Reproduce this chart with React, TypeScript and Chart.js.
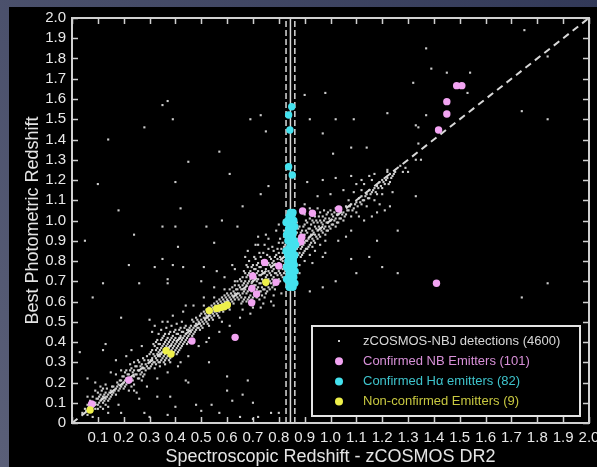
import { useEffect, useRef } from "react";
import { Chart, registerables } from "chart.js";

Chart.register(...registerables);

const X_TICKS = [0, 0.1, 0.2, 0.3, 0.4, 0.5, 0.6, 0.7, 0.8, 0.9, 1.0, 1.1, 1.2, 1.3, 1.4, 1.5, 1.6, 1.7, 1.8, 1.9, 2.0];
const X_TICK_LABELS = ["", "0.1", "0.2", "0.3", "0.4", "0.5", "0.6", "0.7", "0.8", "0.9", "1.0", "1.1", "1.2", "1.3", "1.4", "1.5", "1.6", "1.7", "1.8", "1.9", "2.0"];
const Y_TICKS = [0, 0.1, 0.2, 0.3, 0.4, 0.5, 0.6, 0.7, 0.8, 0.9, 1.0, 1.1, 1.2, 1.3, 1.4, 1.5, 1.6, 1.7, 1.8, 1.9, 2.0];
const Y_TICK_LABELS = ["0", "0.1", "0.2", "0.3", "0.4", "0.5", "0.6", "0.7", "0.8", "0.9", "1.0", "1.1", "1.2", "1.3", "1.4", "1.5", "1.6", "1.7", "1.8", "1.9", "2.0"];

const X_TITLE = "Spectroscopic Redshift - zCOSMOS DR2";
const Y_TITLE = "Best Photometric Redshift";

const SERIES_LABELS = [
  "zCOSMOS-NBJ detections (4600)",
  "Confirmed NB Emitters (101)",
  "Confirmed H\u03b1 emitters (82)",
  "Non-confirmed Emitters (9)",
];

// dense cloud of zCOSMOS-NBJ detections along the 1:1 relation
const CLOUD: [number, number][] = [
  [0.04,0.05],[0.05,0.07],[0.06,0.04],[0.06,0.09],[0.07,0.06],[0.07,0.11],[0.08,0.08],[0.08,0.13],[0.09,0.07],[0.09,0.10],
  [0.10,0.12],[0.10,0.09],[0.10,0.15],[0.11,0.11],[0.11,0.14],[0.12,0.10],[0.12,0.13],[0.12,0.17],[0.13,0.12],[0.13,0.15],
  [0.14,0.14],[0.14,0.11],[0.15,0.16],[0.15,0.13],[0.09,0.16],[0.11,0.18],[0.13,0.19],[0.08,0.03],[0.12,0.07],[0.14,0.08],
  [0.16,0.15],[0.16,0.18],[0.17,0.14],[0.17,0.17],[0.18,0.19],[0.18,0.16],[0.19,0.18],[0.19,0.21],[0.20,0.17],[0.20,0.20],
  [0.20,0.23],[0.21,0.19],[0.21,0.22],[0.21,0.26],[0.22,0.20],[0.22,0.24],[0.23,0.22],[0.23,0.27],[0.23,0.18],[0.24,0.23],
  [0.24,0.26],[0.24,0.30],[0.25,0.24],[0.25,0.28],[0.26,0.22],[0.26,0.26],[0.26,0.30],[0.27,0.25],[0.27,0.29],[0.28,0.27],
  [0.28,0.31],[0.28,0.24],[0.29,0.28],[0.29,0.33],[0.30,0.27],[0.30,0.30],[0.30,0.34],
  [0.31,0.29],[0.31,0.32],[0.31,0.36],[0.32,0.30],[0.32,0.33],[0.32,0.38],[0.33,0.31],[0.33,0.34],[0.33,0.37],[0.33,0.41],
  [0.34,0.30],[0.34,0.33],[0.34,0.36],[0.34,0.39],[0.35,0.32],[0.35,0.35],[0.35,0.38],[0.35,0.42],[0.36,0.31],[0.36,0.34],
  [0.36,0.37],[0.36,0.40],[0.36,0.44],[0.37,0.33],[0.37,0.36],[0.37,0.39],[0.37,0.42],[0.38,0.32],[0.38,0.35],[0.38,0.38],
  [0.38,0.41],[0.38,0.45],[0.39,0.34],[0.39,0.37],[0.39,0.40],[0.39,0.43],[0.40,0.36],[0.40,0.39],[0.40,0.42],[0.40,0.46],
  [0.41,0.35],[0.41,0.38],[0.41,0.41],[0.41,0.44],[0.42,0.37],[0.42,0.40],[0.42,0.43],[0.42,0.47],[0.43,0.39],[0.43,0.42],
  [0.43,0.45],[0.44,0.41],[0.44,0.44],[0.44,0.48],[0.45,0.43],[0.45,0.46],[0.45,0.40],[0.46,0.45],[0.46,0.48],[0.47,0.44],
  [0.47,0.47],[0.47,0.50],
  [0.48,0.46],[0.48,0.49],[0.48,0.52],[0.49,0.47],[0.49,0.50],[0.50,0.48],[0.50,0.51],[0.50,0.54],[0.51,0.49],[0.51,0.52],
  [0.51,0.55],[0.52,0.50],[0.52,0.53],[0.52,0.56],[0.53,0.51],[0.53,0.54],[0.53,0.57],[0.54,0.52],[0.54,0.55],[0.54,0.58],
  [0.55,0.53],[0.55,0.56],[0.55,0.59],[0.56,0.54],[0.56,0.57],[0.56,0.60],[0.57,0.55],[0.57,0.58],[0.57,0.61],[0.58,0.56],
  [0.58,0.59],[0.58,0.62],[0.59,0.57],[0.59,0.60],[0.59,0.63],[0.60,0.58],[0.60,0.61],[0.60,0.64],[0.61,0.59],[0.61,0.62],
  [0.61,0.66],[0.62,0.60],[0.62,0.63],[0.62,0.67],[0.63,0.61],[0.63,0.64],[0.63,0.68],[0.64,0.62],[0.64,0.66],[0.64,0.70],
  [0.65,0.63],[0.65,0.67],[0.65,0.71],
  [0.66,0.60],[0.66,0.64],[0.66,0.68],[0.66,0.72],[0.67,0.62],[0.67,0.66],[0.67,0.70],[0.67,0.74],[0.68,0.61],[0.68,0.65],
  [0.68,0.69],[0.68,0.73],[0.68,0.77],[0.69,0.63],[0.69,0.67],[0.69,0.71],[0.69,0.75],[0.70,0.62],[0.70,0.66],[0.70,0.70],
  [0.70,0.74],[0.70,0.78],[0.71,0.64],[0.71,0.68],[0.71,0.72],[0.71,0.76],[0.71,0.81],[0.72,0.63],[0.72,0.67],[0.72,0.71],
  [0.72,0.75],[0.72,0.79],[0.73,0.65],[0.73,0.69],[0.73,0.73],[0.73,0.77],[0.73,0.82],[0.74,0.66],[0.74,0.70],[0.74,0.74],
  [0.74,0.78],[0.74,0.84],[0.75,0.64],[0.75,0.68],[0.75,0.72],[0.75,0.76],[0.75,0.80],[0.76,0.67],[0.76,0.71],[0.76,0.75],
  [0.76,0.79],[0.76,0.86],[0.77,0.69],[0.77,0.73],[0.77,0.77],[0.77,0.81],[0.78,0.68],[0.78,0.72],[0.78,0.76],[0.78,0.80],
  [0.78,0.85],[0.79,0.70],[0.79,0.74],[0.79,0.78],[0.79,0.83],[0.80,0.71],[0.80,0.75],[0.80,0.79],[0.80,0.84],[0.80,0.89],
  [0.81,0.73],[0.81,0.77],[0.81,0.81],[0.81,0.86],[0.82,0.74],[0.82,0.78],[0.82,0.82],[0.82,0.87],[0.82,0.92],
  [0.83,0.80],[0.84,0.95],[0.85,0.85],[0.86,0.90],[0.86,0.75],
  [0.87,0.82],[0.87,0.86],[0.87,0.90],[0.87,0.94],[0.88,0.84],[0.88,0.88],[0.88,0.92],[0.88,0.97],[0.89,0.83],[0.89,0.87],
  [0.89,0.91],[0.89,0.95],[0.90,0.85],[0.90,0.89],[0.90,0.93],[0.90,0.98],[0.91,0.86],[0.91,0.90],[0.91,0.94],[0.91,0.99],
  [0.92,0.88],[0.92,0.92],[0.92,0.96],[0.92,1.01],[0.93,0.87],[0.93,0.91],[0.93,0.95],[0.93,1.00],[0.94,0.89],[0.94,0.93],
  [0.94,0.97],[0.94,1.02],[0.95,0.91],[0.95,0.95],[0.95,0.99],[0.96,0.92],[0.96,0.96],[0.96,1.00],[0.96,1.04],[0.97,0.94],
  [0.97,0.98],[0.97,1.02],[0.98,0.93],[0.98,0.97],[0.98,1.01],[0.99,0.95],[0.99,0.99],[0.99,1.04],[1.00,0.96],[1.00,1.00],
  [1.00,1.05],[1.01,0.98],[1.01,1.02],[1.02,0.97],[1.02,1.01],[1.02,1.06],[1.03,0.99],[1.03,1.03],[1.04,1.01],[1.04,1.05],
  [1.05,1.00],[1.05,1.04],
  [1.06,1.03],[1.06,1.07],[1.07,1.05],[1.08,1.02],[1.08,1.08],[1.09,1.06],[1.10,1.04],[1.10,1.09],[1.11,1.11],[1.12,1.08],
  [1.12,1.12],[1.13,1.10],[1.14,1.13],[1.15,1.11],[1.15,1.15],[1.16,1.14],[1.17,1.16],[1.18,1.13],[1.18,1.17],[1.19,1.19],
  [1.20,1.16],[1.20,1.20],[1.21,1.18],[1.22,1.21],[1.23,1.19],[1.23,1.23],[1.24,1.22],[1.25,1.24],[1.13,1.18],[1.16,1.20],
  [1.09,1.14],[1.11,1.02],
];

// second pass of cloud points read between the first ones (denser core)
const CLOUD_FILL: [number, number][] = [
  [0.055,0.06],[0.065,0.08],[0.075,0.09],[0.085,0.10],[0.095,0.12],[0.105,0.10],[0.105,0.13],[0.115,0.12],[0.115,0.16],[0.125,0.14],
  [0.125,0.11],[0.135,0.13],[0.135,0.17],[0.145,0.15],[0.145,0.12],[0.155,0.14],[0.155,0.18],[0.10,0.07],[0.11,0.08],[0.13,0.09],
  [0.165,0.16],[0.175,0.18],[0.175,0.20],[0.185,0.17],[0.185,0.21],[0.195,0.19],[0.195,0.23],[0.205,0.18],[0.205,0.21],[0.205,0.25],
  [0.215,0.20],[0.215,0.24],[0.225,0.22],[0.225,0.26],[0.225,0.29],[0.235,0.21],[0.235,0.25],[0.245,0.24],[0.245,0.28],[0.255,0.26],
  [0.255,0.22],[0.255,0.31],[0.265,0.24],[0.265,0.28],[0.275,0.27],[0.275,0.23],[0.275,0.32],[0.285,0.26],[0.285,0.29],[0.295,0.27],
  [0.295,0.31],[0.22,0.16],[0.24,0.19],[0.27,0.21],
  [0.305,0.28],[0.305,0.31],[0.305,0.35],[0.315,0.30],[0.315,0.34],[0.315,0.39],[0.325,0.29],[0.325,0.32],[0.325,0.36],[0.325,0.40],
  [0.335,0.30],[0.335,0.33],[0.335,0.35],[0.335,0.39],[0.335,0.44],[0.345,0.31],[0.345,0.34],[0.345,0.37],[0.345,0.41],[0.345,0.46],
  [0.355,0.30],[0.355,0.33],[0.355,0.36],[0.355,0.39],[0.355,0.43],[0.365,0.32],[0.365,0.35],[0.365,0.38],[0.365,0.41],[0.365,0.47],
  [0.375,0.31],[0.375,0.34],[0.375,0.37],[0.375,0.40],[0.375,0.44],[0.385,0.33],[0.385,0.36],[0.385,0.39],[0.385,0.42],[0.385,0.48],
  [0.395,0.35],[0.395,0.38],[0.395,0.41],[0.395,0.45],[0.405,0.34],[0.405,0.37],[0.405,0.40],[0.405,0.44],[0.405,0.49],[0.415,0.36],
  [0.415,0.39],[0.415,0.42],[0.415,0.46],[0.425,0.38],[0.425,0.41],[0.425,0.45],[0.425,0.50],[0.435,0.40],[0.435,0.43],[0.435,0.47],
  [0.445,0.42],[0.445,0.46],[0.445,0.39],[0.455,0.44],[0.455,0.47],[0.465,0.43],[0.465,0.46],[0.465,0.51],[0.32,0.27],[0.34,0.28],
  [0.36,0.29],[0.38,0.30],
  [0.475,0.45],[0.475,0.48],[0.485,0.47],[0.485,0.51],[0.495,0.46],[0.495,0.49],[0.495,0.53],[0.505,0.50],[0.505,0.47],[0.515,0.51],
  [0.515,0.54],[0.525,0.49],[0.525,0.52],[0.525,0.55],[0.535,0.53],[0.535,0.56],[0.545,0.51],[0.545,0.54],[0.545,0.57],[0.555,0.55],
  [0.555,0.58],[0.565,0.53],[0.565,0.56],[0.565,0.59],[0.575,0.57],[0.575,0.60],[0.585,0.55],[0.585,0.58],[0.585,0.61],[0.595,0.59],
  [0.595,0.62],[0.605,0.57],[0.605,0.60],[0.605,0.63],[0.615,0.61],[0.615,0.64],[0.625,0.59],[0.625,0.62],[0.625,0.65],[0.635,0.63],
  [0.635,0.66],[0.645,0.61],[0.645,0.64],[0.645,0.68],[0.51,0.58],[0.55,0.62],[0.59,0.66],[0.63,0.70],[0.53,0.48],[0.57,0.52],
  [0.61,0.56],
  [0.655,0.59],[0.655,0.62],[0.655,0.66],[0.655,0.70],[0.665,0.61],[0.665,0.65],[0.665,0.69],[0.665,0.75],[0.675,0.60],[0.675,0.64],
  [0.675,0.68],[0.675,0.72],[0.675,0.78],[0.685,0.62],[0.685,0.66],[0.685,0.70],[0.685,0.74],[0.685,0.80],[0.695,0.61],[0.695,0.65],
  [0.695,0.69],[0.695,0.73],[0.695,0.77],[0.705,0.60],[0.705,0.64],[0.705,0.68],[0.705,0.72],[0.705,0.76],[0.705,0.82],[0.715,0.62],
  [0.715,0.66],[0.715,0.70],[0.715,0.74],[0.715,0.78],[0.725,0.61],[0.725,0.65],[0.725,0.69],[0.725,0.73],[0.725,0.77],[0.725,0.84],
  [0.735,0.63],[0.735,0.67],[0.735,0.71],[0.735,0.75],[0.735,0.80],[0.745,0.62],[0.745,0.66],[0.745,0.70],[0.745,0.74],[0.745,0.88],
  [0.755,0.65],[0.755,0.69],[0.755,0.73],[0.755,0.78],[0.755,0.83],[0.765,0.66],[0.765,0.70],[0.765,0.74],[0.765,0.78],[0.765,0.82],
  [0.775,0.67],[0.775,0.71],[0.775,0.75],[0.775,0.79],[0.775,0.87],[0.785,0.66],[0.785,0.70],[0.785,0.74],[0.785,0.78],[0.785,0.82],
  [0.795,0.69],[0.795,0.73],[0.795,0.77],[0.795,0.81],[0.795,0.86],[0.805,0.70],[0.805,0.74],[0.805,0.78],[0.805,0.82],[0.805,0.91],
  [0.815,0.72],[0.815,0.76],[0.815,0.80],[0.815,0.84],[0.815,0.89],[0.825,0.75],[0.825,0.79],[0.825,0.83],[0.825,0.88],[0.82,0.95],
  [0.70,0.57],[0.74,0.59],[0.78,0.63],[0.68,0.85],[0.72,0.88],[0.76,0.91],
  [0.865,0.80],[0.865,0.84],[0.865,0.88],[0.865,0.93],[0.875,0.83],[0.875,0.87],[0.875,0.91],[0.875,0.96],[0.885,0.82],[0.885,0.86],
  [0.885,0.90],[0.885,0.94],[0.895,0.84],[0.895,0.88],[0.895,0.92],[0.895,0.97],[0.905,0.86],[0.905,0.90],[0.905,0.95],[0.905,1.00],
  [0.915,0.87],[0.915,0.91],[0.915,0.96],[0.925,0.89],[0.925,0.93],[0.925,0.98],[0.935,0.90],[0.935,0.94],[0.935,0.99],[0.945,0.92],
  [0.945,0.96],[0.945,1.00],[0.955,0.93],[0.955,0.97],[0.955,1.02],[0.965,0.95],[0.965,0.99],[0.975,0.96],[0.975,1.00],[0.975,1.05],
  [0.985,0.95],[0.985,0.99],[0.985,1.03],[0.995,0.97],[0.995,1.01],[1.005,0.98],[1.005,1.03],[1.015,1.00],[1.015,1.04],[1.025,0.99],
  [1.025,1.03],[1.035,1.01],[1.035,1.06],[1.045,1.03],[0.88,0.78],[0.90,0.80],[0.92,0.83],[0.94,0.85],[0.96,0.88],[0.98,0.90],
  [0.90,1.03],[0.95,1.06],[0.87,0.99],
  [1.055,1.02],[1.065,1.05],[1.075,1.07],[1.085,1.05],[1.095,1.08],[1.105,1.07],[1.115,1.09],[1.125,1.10],[1.135,1.12],[1.145,1.11],
  [1.155,1.13],[1.165,1.15],[1.175,1.14],[1.185,1.16],[1.195,1.17],[1.205,1.19],[1.215,1.20],[1.225,1.18],[1.235,1.21],[1.245,1.23],
  [1.07,1.10],[1.12,1.15],[1.17,1.10],[1.20,1.13],[1.22,1.25],[1.14,1.07],
];

// looser halo of detections around the core band
const CLOUD_HALO: [number, number][] = [
  [0.15,0.25],[0.18,0.09],[0.21,0.33],[0.25,0.15],[0.27,0.38],[0.29,0.18],[0.31,0.45],[0.33,0.22],[0.35,0.50],[0.37,0.25],
  [0.39,0.53],[0.41,0.28],[0.43,0.55],[0.45,0.33],[0.47,0.58],[0.49,0.38],[0.51,0.62],[0.53,0.42],[0.55,0.67],[0.57,0.45],
  [0.59,0.72],[0.61,0.48],[0.63,0.76],[0.65,0.52],[0.67,0.82],[0.69,0.54],[0.71,0.88],[0.73,0.57],[0.75,0.93],[0.77,0.60],
  [0.79,0.95],[0.81,0.64],[0.82,1.00],[0.88,0.74],[0.90,1.08],[0.93,0.79],[0.95,1.12],[0.98,0.84],[1.00,1.13],[1.03,0.90],
  [1.05,1.15],[1.08,0.95],[1.10,1.18],[1.13,1.00],[1.15,1.22],[1.19,1.08],[1.24,1.14],[1.27,1.27],[1.29,1.26],[0.23,0.36],
  [0.26,0.12],[0.32,0.48],[0.42,0.30],[0.44,0.58],[0.52,0.40],[0.58,0.50],[0.62,0.78],[0.66,0.56],[0.72,0.92],[0.78,0.58],
  [0.80,0.98],[0.92,1.06],[0.97,0.82],[1.06,0.92],[1.12,1.20],[0.17,0.24],[0.14,0.05],[0.09,0.20],[0.06,0.13],
];

// sparse outliers of the zCOSMOS-NBJ detections
const SCATTER: [number, number][] = [
  [0.35,1.57],[0.37,1.59],[0.39,1.50],[0.28,1.46],[0.73,1.52],[0.69,1.50],[0.75,1.44],[0.57,1.34],[0.45,1.29],[0.97,1.43],
  [0.92,1.50],[1.02,1.50],[1.09,1.50],[1.22,1.53],[1.08,1.36],[1.14,1.36],[1.01,1.33],[1.22,1.24],[0.91,1.19],[0.97,1.20],
  [1.02,1.21],[0.61,1.23],[0.40,1.19],[0.73,1.13],[0.76,1.17],[0.66,1.07],[0.42,1.06],[0.58,1.00],[0.35,0.97],[0.40,0.97],
  [0.52,0.97],[0.64,0.97],[0.55,0.89],[0.41,0.87],[0.35,0.81],[0.43,0.77],[0.37,0.71],[0.50,0.70],[0.32,0.77],[1.16,1.02],
  [1.21,1.05],[1.18,0.90],[1.26,0.95],[1.15,0.82],[1.20,0.77],[1.08,0.81],[1.10,0.74],[1.02,0.70],[0.97,0.67],[0.92,0.65],
  [1.26,0.74],[0.90,1.62],[0.98,1.63],[1.17,1.23],[1.08,1.22],[1.18,1.04],[1.23,1.07],
  [0.12,0.69],[0.26,0.69],[0.37,0.69],[0.30,0.51],[0.37,0.50],[0.19,0.52],[0.13,0.39],[0.12,0.36],[0.17,0.31],[0.19,0.26],
  [0.24,0.16],[0.33,0.13],[0.38,0.13],[0.44,0.21],[0.53,0.30],[0.60,0.23],[0.68,0.21],[0.62,0.11],[0.70,0.10],[0.50,0.06],
  [0.40,0.08],[0.30,0.03],[0.56,0.75],[0.51,0.77],[0.22,0.78],[0.39,0.78],[0.65,0.03],[0.72,0.03],
  [0.19,0.05],[0.28,0.05],[0.37,0.04],[0.45,0.20],[0.54,0.09],[0.60,0.16],[0.66,0.14],[0.70,0.02],[0.77,0.05],[0.80,0.05],
  [0.57,0.05],[0.48,0.09],
  [0.05,0.90],[0.10,1.18],[0.18,1.05],[0.24,0.93],[0.14,1.40],[0.08,0.62],[0.03,0.35],[0.06,0.22],
  [1.75,1.94],[1.37,1.85],[1.39,1.75],[1.45,1.73],[1.54,1.73],[1.32,1.68],[1.84,1.81],[1.53,1.63],[1.37,1.52],[1.33,1.47],
  [1.34,1.46],[1.74,1.54],[1.84,1.50],[1.34,1.38],[1.33,1.30],[1.35,1.30],[1.28,1.24],[1.30,1.24],[1.33,1.12],
  [1.74,0.62],[1.84,0.69],
];

const NB_EMITTERS: [number, number][] = [
  [0.892,1.047],[0.93,1.036],[1.032,1.057],[0.889,0.917],[0.885,0.895],[0.745,0.793],[0.80,0.775],[0.699,0.726],
  [0.789,0.695],[0.696,0.665],[0.714,0.637],[0.695,0.594],[0.631,0.423],[0.464,0.405],[0.22,0.212],[0.076,0.094],
  [1.488,1.666],[1.508,1.666],[1.45,1.587],[1.45,1.526],[1.418,1.447],[1.41,0.69],
];

const HA_EMITTERS: [number, number][] = [
  [0.85,1.562],[0.838,1.521],[0.843,1.447],[0.838,1.266],[0.852,1.225],
  [0.845,1.04],[0.855,1.04],[0.84,1.02],[0.85,1.02],[0.835,1.00],[0.848,1.00],[0.858,1.00],[0.84,0.98],[0.852,0.98],
  [0.838,0.96],[0.845,0.94],[0.856,0.94],[0.84,0.92],[0.835,0.90],[0.85,0.90],[0.86,0.90],[0.845,0.88],[0.838,0.86],
  [0.855,0.86],[0.848,0.84],[0.84,0.82],[0.858,0.82],[0.835,0.80],[0.85,0.80],[0.845,0.78],[0.86,0.78],[0.838,0.76],
  [0.85,0.74],[0.84,0.74],[0.845,0.72],[0.858,0.72],[0.838,0.70],[0.852,0.70],[0.845,0.68],[0.84,0.67],[0.855,0.67],
  [0.828,0.99],[0.862,0.97],[0.83,0.93],[0.865,0.88],[0.828,0.85],[0.862,0.83],[0.83,0.77],[0.863,0.75],[0.83,0.71],
  [0.862,0.69],[0.85,1.03],[0.842,0.97],[0.853,0.92],[0.843,0.87],[0.852,0.83],[0.843,0.79],[0.853,0.76],[0.848,0.71],
  [0.843,0.69],[0.85,0.96],[0.835,0.94],[0.835,0.83],[0.84,0.78],[0.856,0.80],[0.845,0.75],
];

const NONCONF_EMITTERS: [number, number][] = [
  [0.07,0.064],[0.364,0.357],[0.383,0.341],[0.531,0.555],[0.56,0.566],[0.575,0.57],[0.589,0.574],[0.601,0.583],[0.75,0.695],
];

const ONE_TO_ONE: [number, number][] = [[0, 0], [2, 2]];
const HA_CENTER: [number, number][] = [[0.845, 0], [0.845, 2]];
const HA_LOW: [number, number][] = [[0.828, 0], [0.828, 2]];
const HA_HIGH: [number, number][] = [[0.862, 0], [0.862, 2]];

const toXY = (arr: [number, number][]) => arr.map(([x, y]) => ({ x, y }));

const FONT = "'Liberation Sans', Arial, Helvetica, sans-serif";
const GRAY = "#cccccc";
const PINK = "#f2a4f2";
const CYAN = "#44e2ee";
const YELLOW = "#eef04a";
const LEGEND_TEXT = ["#d8d8d8", "#d890d8", "#3ec4cc", "#c8c840"];

const backgroundPlugin = {
  id: "bgPanel",
  beforeDraw(chart: any) {
    const { ctx, width, height } = chart;
    ctx.save();
    const g = ctx.createLinearGradient(0, height, width, 0);
    g.addColorStop(0, "#5a5f78");
    g.addColorStop(1, "#323958");
    ctx.fillStyle = g;
    ctx.fillRect(0, 0, width, height);
    ctx.fillStyle = "#000";
    ctx.fillRect(9, 7, width - 9, height - 7);
    ctx.restore();
  },
};

const framePlugin = {
  id: "frameTicks",
  afterDatasetsDraw(chart: any) {
    const { ctx, chartArea } = chart;
    const xs = chart.scales.x;
    const ys = chart.scales.y;
    const { left, right, top, bottom } = chartArea;
    ctx.save();
    ctx.strokeStyle = "#d0d0d0";
    ctx.lineWidth = 1.5;
    const len = 6;
    ctx.beginPath();
    X_TICKS.forEach((v) => {
      const px = Math.round(xs.getPixelForValue(v)) + 0.5;
      ctx.moveTo(px, bottom);
      ctx.lineTo(px, bottom - len);
      ctx.moveTo(px, top);
      ctx.lineTo(px, top + len);
    });
    Y_TICKS.forEach((v) => {
      const py = Math.round(ys.getPixelForValue(v)) + 0.5;
      ctx.moveTo(left, py);
      ctx.lineTo(left + len, py);
      ctx.moveTo(right, py);
      ctx.lineTo(right - len, py);
    });
    ctx.stroke();
    ctx.lineWidth = 2;
    ctx.strokeRect(left, top, right - left, bottom - top);

    // legend box
    const bx0 = 312, by0 = 326, bx1 = 580, by1 = 416;
    ctx.fillStyle = "#000";
    ctx.fillRect(bx0, by0, bx1 - bx0, by1 - by0);
    ctx.strokeStyle = "#e4e4e4";
    ctx.lineWidth = 2;
    ctx.strokeRect(bx0, by0, bx1 - bx0, by1 - by0);
    const markerX = 339;
    const textX = 363;
    const ds = chart.data.datasets;
    ctx.font = `13px ${FONT}`;
    ctx.textBaseline = "middle";
    ctx.textAlign = "left";
    [0, 1, 2, 3].forEach((di, i) => {
      const y = 341 + i * 20.2;
      const d = ds[di];
      ctx.fillStyle = d.backgroundColor;
      if (i === 0) {
        ctx.fillRect(markerX - 1, y - 1, 2, 2);
      } else {
        ctx.beginPath();
        ctx.arc(markerX, y, 4, 0, Math.PI * 2);
        ctx.fill();
      }
      ctx.fillStyle = LEGEND_TEXT[i];
      ctx.fillText(d.label, textX, y);
    });
    ctx.restore();
  },
};

export default function App() {
  const ref = useRef<HTMLCanvasElement | null>(null);
  useEffect(() => {
    if (!ref.current) return;
    const lineDs = (data: [number, number][], dash: number[], width: number, label: string) => ({
      type: "line" as const,
      label,
      data: toXY(data),
      borderColor: "#d8d8d8",
      borderWidth: width,
      borderDash: dash,
      pointRadius: 0,
      fill: false,
      order: 8,
    });
    const chart = new Chart(ref.current, {
      type: "scatter",
      data: {
        datasets: [
          {
            label: SERIES_LABELS[0],
            data: toXY([...CLOUD, ...CLOUD_FILL, ...CLOUD_HALO, ...SCATTER]),
            pointStyle: "rect",
            pointRadius: 1.5,
            backgroundColor: GRAY,
            borderWidth: 0,
            order: 10,
          },
          {
            label: SERIES_LABELS[1],
            data: toXY(NB_EMITTERS),
            pointRadius: 3.7,
            backgroundColor: PINK,
            borderWidth: 0,
            order: 3,
          },
          {
            label: SERIES_LABELS[2],
            data: toXY(HA_EMITTERS),
            pointRadius: 3.7,
            backgroundColor: CYAN,
            borderWidth: 0,
            order: 2,
          },
          {
            label: SERIES_LABELS[3],
            data: toXY(NONCONF_EMITTERS),
            pointRadius: 3.7,
            backgroundColor: YELLOW,
            borderWidth: 0,
            order: 1,
          },
          lineDs(ONE_TO_ONE, [7, 5], 2, "1:1"),
          lineDs(HA_CENTER, [], 1.5, "Halpha"),
          lineDs(HA_LOW, [6, 3], 1.5, "Halpha low"),
          lineDs(HA_HIGH, [6, 3], 1.5, "Halpha high"),
        ] as any,
      },
      options: {
        animation: false,
        responsive: false,
        devicePixelRatio: 1,
        layout: { padding: { left: 0, right: 8, top: 18, bottom: 0 } },
        plugins: { legend: { display: false }, tooltip: { enabled: false } },
        scales: {
          x: {
            type: "linear",
            min: 0,
            max: 2,
            afterBuildTicks: (s: any) => {
              s.ticks = X_TICKS.map((v) => ({ value: v }));
            },
            afterFit: (s: any) => {
              s.height = 44;
              s.paddingLeft = 0;
              s.paddingRight = 0;
            },
            ticks: {
              autoSkip: false,
              maxRotation: 0,
              minRotation: 0,
              padding: 6,
              color: "#e8e8e8",
              font: { family: FONT, size: 15 },
              callback: (_v: any, i: number) => X_TICK_LABELS[i],
            },
            grid: { display: false, drawTicks: false },
            border: { display: false },
            title: {
              display: true,
              text: X_TITLE,
              color: "#e4e4e4",
              font: { family: FONT, size: 18, lineHeight: 1.1 },
              padding: { top: 0, bottom: 0 },
            },
          },
          y: {
            type: "linear",
            min: 0,
            max: 2,
            afterBuildTicks: (s: any) => {
              s.ticks = Y_TICKS.map((v) => ({ value: v }));
            },
            afterFit: (s: any) => {
              s.width = 72;
              s.paddingTop = 0;
              s.paddingBottom = 0;
            },
            ticks: {
              autoSkip: false,
              padding: 6,
              color: "#e8e8e8",
              font: { family: FONT, size: 15 },
              callback: (_v: any, i: number) => Y_TICK_LABELS[i],
            },
            grid: { display: false, drawTicks: false },
            border: { display: false },
            title: {
              display: true,
              text: Y_TITLE,
              color: "#e4e4e4",
              font: { family: FONT, size: 18, lineHeight: 1.1 },
              padding: { top: 23, bottom: 0 },
            },
          },
        },
      },
      plugins: [backgroundPlugin, framePlugin],
    });
    return () => chart.destroy();
  }, []);
  return (
    <div style={{ position: "absolute", left: 0, top: 0, width: 597, height: 467 }}>
      <canvas ref={ref} width={597} height={467} style={{ display: "block" }} />
    </div>
  );
}
